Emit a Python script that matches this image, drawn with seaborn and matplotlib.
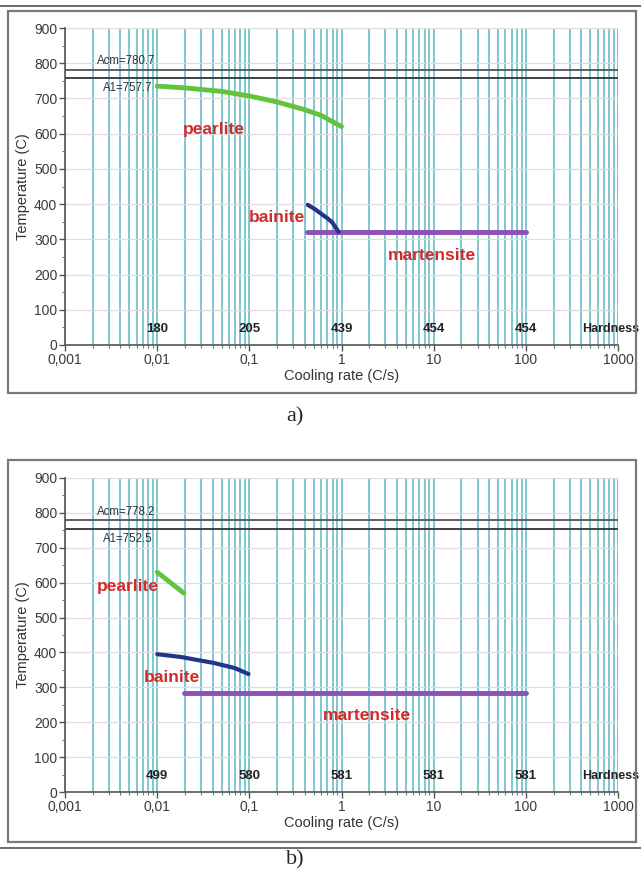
import numpy as np
import pandas as pd
import matplotlib
matplotlib.use("Agg")
import matplotlib.pyplot as plt
import matplotlib.transforms as mtransforms
from matplotlib.patches import Rectangle
from matplotlib.lines import Line2D
from matplotlib.ticker import LogLocator, NullFormatter, MultipleLocator
import seaborn as sns

# panel a data
pearlite_a_rate = [0.01, 0.02, 0.05, 0.1, 0.2, 0.4, 0.6, 1.0]
pearlite_a_temp = [735, 730, 720, 707, 690, 668, 652, 620]
bainite_a_rate = [0.43, 0.52, 0.62, 0.71, 0.80, 0.93]
bainite_a_temp = [398, 385, 370, 359, 347, 321]
martensite_a_rate = [0.42, 100]
martensite_a_temp = [320, 320]
acm_a, a1_a = 780.7, 757.7
hardness_a = ["180", "205", "439", "454", "454"]

# panel b data
pearlite_b_rate = [0.01, 0.0195]
pearlite_b_temp = [630, 570]
bainite_b_rate = [0.01, 0.018, 0.041, 0.07, 0.098]
bainite_b_temp = [395, 387, 370, 355, 338]
martensite_b_rate = [0.0195, 100]
martensite_b_temp = [284, 284]
acm_b, a1_b = 778.2, 752.5
hardness_b = ["499", "580", "581", "581", "581"]

hardness_pos = [0.01, 0.1, 1, 10, 100]
decades = [0.001, 0.01, 0.1, 1, 10, 100, 1000]
decade_labels = ["0,001", "0,01", "0,1", "1", "10", "100", "1000"]

sns.set_style("white")
plt.rcParams['font.family'] = ['Liberation Sans', 'DejaVu Sans']

W, H = 641, 877
fig = plt.figure(figsize=(W / 100, H / 100), dpi=100)


def fx(px):
    return px / W


def fy(py):
    return 1 - py / H


def frame(top, bottom, line_y):
    fig.patches.append(Rectangle((fx(8), fy(bottom)), fx(628), (bottom - top) / H,
                                 transform=fig.transFigure, fill=False,
                                 edgecolor="#7a7a7a", lw=1.6))
    fig.lines.append(Line2D([0, 1], [fy(line_y), fy(line_y)], transform=fig.transFigure,
                            color="#6a6a6a", lw=1.4))


def panel(ax, pr, pt, br, bt, mr, mt, acm, a1, hard, labels):
    ax.set_xscale("log")
    ax.set_xlim(0.001, 1000)
    ax.set_ylim(0, 900)
    ax.grid(which="both", axis="x", color="#80c6cf", lw=1.4)
    ax.grid(which="major", axis="y", color="#dedede", lw=0.9)
    ax.set_axisbelow(True)
    ax.axhline(acm, color="#555555", lw=1.3)
    ax.axhline(a1, color="#333333", lw=1.3)
    ax.text(0.0022, acm + 8, f"Acm={acm}", fontsize=8.3, color="#333333", va="bottom")
    ax.text(0.0026, a1 - 10, f"A1={a1}", fontsize=8.3, color="#333333", va="top")

    sns.lineplot(x=pr, y=pt, ax=ax, color="#62c43e", lw=3.5, sort=False, legend=False)
    sns.lineplot(x=mr, y=mt, ax=ax, color="#8d4fb8", lw=3.5, sort=False, legend=False)
    sns.lineplot(x=br, y=bt, ax=ax, color="#23348a", lw=3, sort=False, legend=False)

    for (lx, ly, s) in labels:
        ax.text(lx, ly, s, color="#d42a2a", fontsize=12.5, fontweight="bold", ha="center", va="center")

    for x, h in zip(hardness_pos, hard):
        ax.text(x, 45, h, fontsize=9.5, fontweight="bold", ha="center", va="center", color="#222222")
    trans = mtransforms.blended_transform_factory(fig.transFigure, ax.transData)
    ax.text(fx(639), 45, "Hardness", transform=trans, fontsize=9, fontweight="bold",
            ha="right", va="center", color="#222222", clip_on=False)

    ax.set_xticks(decades)
    ax.set_xticklabels(decade_labels)
    ax.xaxis.set_minor_locator(LogLocator(base=10, subs=np.arange(2, 10)))
    ax.xaxis.set_minor_formatter(NullFormatter())
    ax.yaxis.set_major_locator(MultipleLocator(100))
    ax.yaxis.set_minor_locator(MultipleLocator(50))
    ax.tick_params(axis="both", which="major", direction="out", length=4, width=1,
                   color="#555555", labelsize=10, labelcolor="#3a3a3a", pad=1.5,
                   bottom=True, left=True)
    ax.tick_params(axis="both", which="minor", direction="out", length=2.5, width=0.8,
                   color="#777777", bottom=True, left=True)
    for side in ["top", "right"]:
        ax.spines[side].set_visible(False)
    for side in ["left", "bottom"]:
        ax.spines[side].set_color("#555555")
        ax.spines[side].set_linewidth(1.2)
    ax.set_xlabel("Cooling rate (C/s)", fontsize=10.5, color="#333333", labelpad=2)
    ax.set_ylabel("Temperature (C)", fontsize=10.5, color="#333333", labelpad=3)


frame(11, 393, 6)
frame(460, 842, 848)

ax_a = fig.add_axes([fx(65), fy(345), fx(618 - 65), (345 - 28) / H])
ax_b = fig.add_axes([fx(65), fy(792), fx(618 - 65), (792 - 478) / H])

panel(ax_a, pearlite_a_rate, pearlite_a_temp, bainite_a_rate, bainite_a_temp,
      martensite_a_rate, martensite_a_temp, acm_a, a1_a, hardness_a,
      [(0.041, 611, "pearlite"), (0.2, 361, "bainite"), (9.5, 253, "martensite")])
panel(ax_b, pearlite_b_rate, pearlite_b_temp, bainite_b_rate, bainite_b_temp,
      martensite_b_rate, martensite_b_temp, acm_b, a1_b, hardness_b,
      [(0.0048, 590, "pearlite"), (0.0145, 327, "bainite"), (1.9, 218, "martensite")])

fig.text(fx(295), fy(417), "a)", fontsize=16, family="Liberation Serif", ha="center", va="center")
fig.text(fx(295), fy(860), "b)", fontsize=16, family="Liberation Serif", ha="center", va="center")

fig.savefig("out.png", dpi=100)
